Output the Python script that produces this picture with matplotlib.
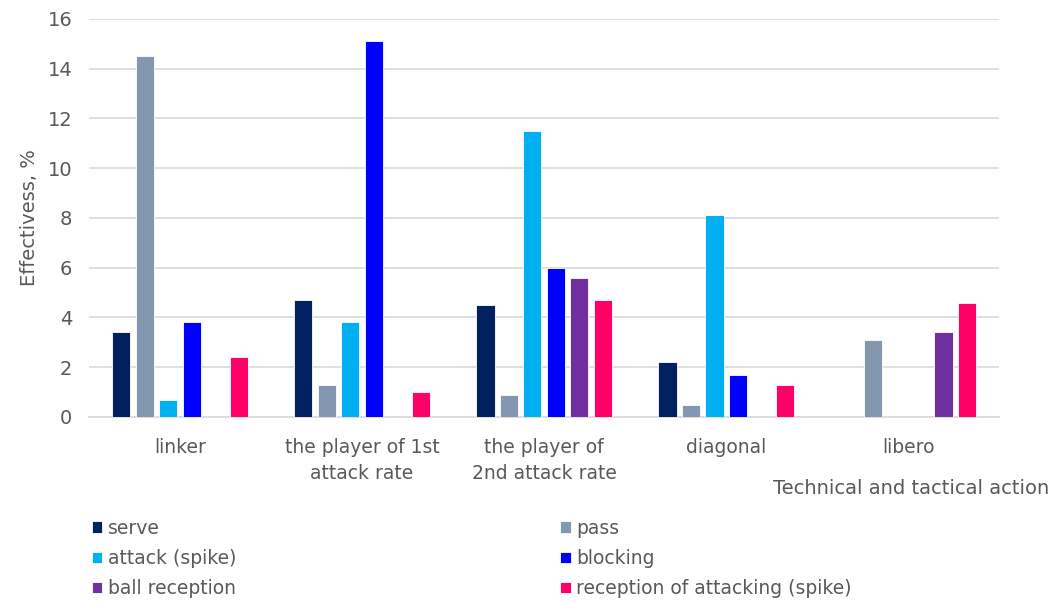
import matplotlib.pyplot as plt
import numpy as np

# --- data ---
positions = ["linker", "the player of 1st\nattack rate", "the player of\n2nd attack rate",
             "diagonal", "libero"]
series_names = ["serve", "pass", "attack (spike)", "blocking", "ball reception",
                "reception of attacking (spike)"]
serve = [3.4, 4.7, 4.5, 2.2, 0.0]
pass_ = [14.5, 1.3, 0.9, 0.5, 3.1]
attack = [0.7, 3.8, 11.5, 8.1, 0.0]
blocking = [3.8, 15.1, 6.0, 1.7, 0.0]
ball_reception = [0.0, 0.0, 5.6, 0.0, 3.4]
reception_attacking = [2.4, 1.0, 4.7, 1.3, 4.6]

COLORS = ["#002060", "#8497B0", "#00B0F0", "#0000FF", "#7030A0", "#FF0066"]
TEXT_C = "#595959"

plt.rcParams.update({"font.family": "DejaVu Sans", "font.size": 13})

fig = plt.figure(figsize=(10.53, 6.03), dpi=100)
ax = fig.add_axes([0.0845, 0.3085, 0.8645, 0.66])

all_series = [serve, pass_, attack, blocking, ball_reception, reception_attacking]
x = np.arange(len(positions))
pitch = 0.129
width = 0.1
handles = []
for i, (vals, name, c) in enumerate(zip(all_series, series_names, COLORS)):
    off = (i - 2.5) * pitch
    b = ax.bar(x + off, vals, width, color=c, edgecolor="white", linewidth=0.6,
               label=name, zorder=3)
    handles.append(b)

ax.set_xlim(-0.5, len(positions) - 0.5)
ax.set_ylim(0, 16)
ax.set_yticks(range(0, 17, 2))
ax.yaxis.grid(True, color="#d9d9d9", linewidth=1.2, zorder=0)
for s in ["top", "right", "left"]:
    ax.spines[s].set_visible(False)
ax.spines["bottom"].set_color("#d9d9d9")
ax.spines["bottom"].set_linewidth(1.2)
ax.tick_params(axis="both", length=0, colors=TEXT_C)
ax.tick_params(axis="y", pad=12, labelsize=14)
ax.set_xticks(x)
ax.set_xticklabels(positions, fontsize=13.5, color=TEXT_C, linespacing=1.45)
ax.tick_params(axis="x", pad=15)
ax.set_ylabel("Effectivess, %", color=TEXT_C, fontsize=14, labelpad=6)

fig.text(0.996, 1 - 488 / 603, "Technical and tactical action", ha="right",
         va="center", color=TEXT_C, fontsize=14)

# row-major order like the reference legend
order = [0, 2, 4, 1, 3, 5]
fig.legend(handles=[handles[i] for i in order], loc="upper left",
           bbox_to_anchor=(0.071, 0.168),
           ncol=2, frameon=False, fontsize=13.5, labelcolor=TEXT_C,
           handlelength=0.55, handleheight=0.55, handletextpad=0.3,
           columnspacing=17.3, labelspacing=0.6)

fig.savefig("out.png", dpi=100)
